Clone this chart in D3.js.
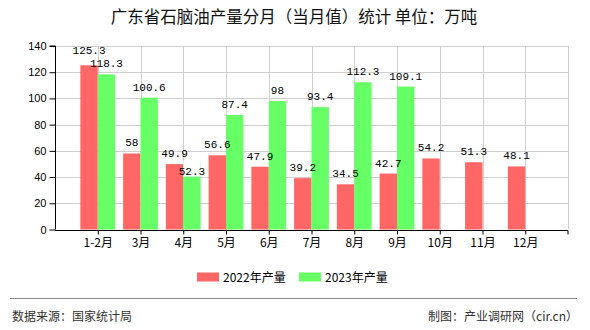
<!DOCTYPE html>
<html>
<head>
<meta charset="utf-8">
<script src="https://cdn.jsdelivr.net/npm/d3@7"></script>
<style>
  html, body { margin: 0; padding: 0; background: #fff; }
  svg { display: block; }
</style>
</head>
<body>
<svg id="chart" width="590" height="330"></svg>
<script>
const categories = ["1-2月", "3月", "4月", "5月", "6月", "7月", "8月", "9月", "10月", "11月", "12月"];
const series2022 = [125.3, 58, 49.9, 56.6, 47.9, 39.2, 34.5, 42.7, 54.2, 51.3, 48.1];
const series2023 = [118.3, 100.6, 52.3, 87.4, 98, 93.4, 112.3, 109.1, null, null, null];
const seriesNames = ["2022年产量", "2023年产量"];
const seriesColors = ["#ff6666", "#66ff66"];
const yTicks = [0, 20, 40, 60, 80, 100, 120, 140];

(function () {
const svg = d3.select("#chart");
const pL = 55, pR = 568, pT = 46, pB = 229.5;
const cjk = "'Noto Sans CJK SC', 'Noto Sans', sans-serif";

const x = d3.scalePoint().domain(categories).range([pL, pR]).padding(1);
const y = d3.scaleLinear().domain([0, 140]).range([pB, pT]);
const barW = 17.4;

// title
svg.append("text").attr("x", 294).attr("y", 23).attr("text-anchor", "middle")
  .attr("font-family", cjk).attr("font-size", 16.5).attr("fill", "#111")
  .text("广东省石脑油产量分月（当月值）统计 单位：万吨");

// gridlines
const grid = svg.append("g");
grid.selectAll("line.h").data(yTicks.filter(d => d > 0)).join("line")
  .attr("x1", pL).attr("x2", pR)
  .attr("y1", d => Math.round(y(d)) + 0.5).attr("y2", d => Math.round(y(d)) + 0.5)
  .attr("stroke", "#cfcfcf").attr("stroke-width", 1);
grid.selectAll("line.v").data(categories).join("line")
  .attr("x1", d => Math.round(x(d)) + 0.5).attr("x2", d => Math.round(x(d)) + 0.5)
  .attr("y1", pT).attr("y2", pB)
  .attr("stroke", "#cfcfcf").attr("stroke-width", 1);
grid.append("line").attr("x1", pR + 0.5).attr("x2", pR + 0.5)
  .attr("y1", pT).attr("y2", pB).attr("stroke", "#cfcfcf");

// bars
const data = [series2022, series2023];
data.forEach((vals, si) => {
  svg.append("g").selectAll("rect").data(vals.map((v, i) => ({ v, c: categories[i] })).filter(d => d.v != null))
    .join("rect")
    .attr("x", d => x(d.c) - barW + si * barW)
    .attr("y", d => y(d.v))
    .attr("width", barW)
    .attr("height", d => y(0) - y(d.v))
    .attr("fill", seriesColors[si]);
});

// value labels with simple collision avoidance
const lblFont = "'Liberation Mono', 'DejaVu Sans Mono', monospace";
const lblG = svg.append("g");
const capH = 8, lineH = 13;
categories.forEach((c, i) => {
  const placed = [];
  data.forEach((vals, si) => {
    const v = vals[i];
    if (v == null) return;
    const cx = x(c) - barW / 2 + si * barW;
    let by = y(v) - 7;
    const g = lblG.append("g");
    const t = g.append("text").attr("x", cx).attr("y", by)
      .attr("text-anchor", "middle").attr("font-family", lblFont)
      .attr("font-size", 11).attr("fill", "#000").text(String(v));
    const w = t.node().getComputedTextLength();
    let box = { x0: cx - w / 2, x1: cx + w / 2, y0: by - capH, y1: by, t };
    for (const p of placed) {
      const ox = box.x0 < p.x1 && box.x1 > p.x0;
      if (!ox) continue;
      const oy = box.y0 < p.y1 && box.y1 > p.y0;
      if (oy) {
        // strong overlap: put this label below the other one, masking bar top
        by = p.y1 + 17.5;
        t.attr("y", by);
        box = { x0: cx - w / 2, x1: cx + w / 2, y0: by - capH, y1: by, t };
        g.insert("rect", "text").attr("x", cx - barW / 2).attr("y", y(v) - 0.5)
          .attr("width", barW).attr("height", by + 2.5 - y(v)).attr("fill", "#fff");
      } else if (Math.abs(box.y1 - p.y1) < lineH) {
        // mild overlap: nudge the upper label up
        const upper = box.y1 < p.y1 ? box : p;
        const lower = upper === box ? p : box;
        const ny = lower.y1 - lineH;
        upper.t.attr("y", ny);
        upper.y1 = ny; upper.y0 = ny - capH;
      }
    }
    placed.push(box);
  });
});

// y axis
const yAxis = d3.axisLeft(y).tickValues(yTicks).tickSize(6).tickPadding(3);
const gy = svg.append("g").attr("transform", `translate(${pL + 0.5},0)`).call(yAxis);
gy.select(".domain").attr("stroke", "#000").attr("d", `M-6,${pT}H0V${pB}`);
gy.selectAll(".tick line").attr("stroke", "#000");
gy.selectAll(".tick text").attr("font-family", "'Liberation Sans', Arial, sans-serif")
  .attr("font-size", 11).attr("fill", "#000");

// x axis
const xAxis = d3.axisBottom(x).tickSize(4).tickPadding(4);
const gx = svg.append("g").attr("transform", `translate(0,${Math.round(pB) + 0.5})`).call(xAxis);
gx.select(".domain").attr("stroke", "#000").attr("d", `M${pL},0H${pR}V4`);
gx.selectAll(".tick line").attr("stroke", "#000");
gx.selectAll(".tick text").attr("font-family", cjk).attr("font-size", 12).attr("fill", "#000");

// legend
const lg = svg.append("g");
const legendX = [197, 299];
seriesNames.forEach((n, i) => {
  lg.append("rect").attr("x", legendX[i]).attr("y", 272.5).attr("width", 22).attr("height", 9)
    .attr("fill", seriesColors[i]);
  lg.append("text").attr("x", legendX[i] + 26).attr("y", 282).attr("font-family", cjk)
    .attr("font-size", 12).attr("fill", "#000").text(n);
});

// footer
svg.append("line").attr("x1", 10).attr("x2", 577).attr("y1", 298.5).attr("y2", 298.5)
  .attr("stroke", "#888").attr("stroke-width", 1);
svg.append("text").attr("x", 12).attr("y", 321).attr("font-family", cjk).attr("font-size", 12)
  .attr("fill", "#333").text("数据来源：国家统计局");
svg.append("text").attr("x", 578).attr("y", 321).attr("text-anchor", "end").attr("font-family", cjk)
  .attr("font-size", 12).attr("fill", "#333").text("制图：产业调研网（cir.cn）");
})();
</script>
</body>
</html>
